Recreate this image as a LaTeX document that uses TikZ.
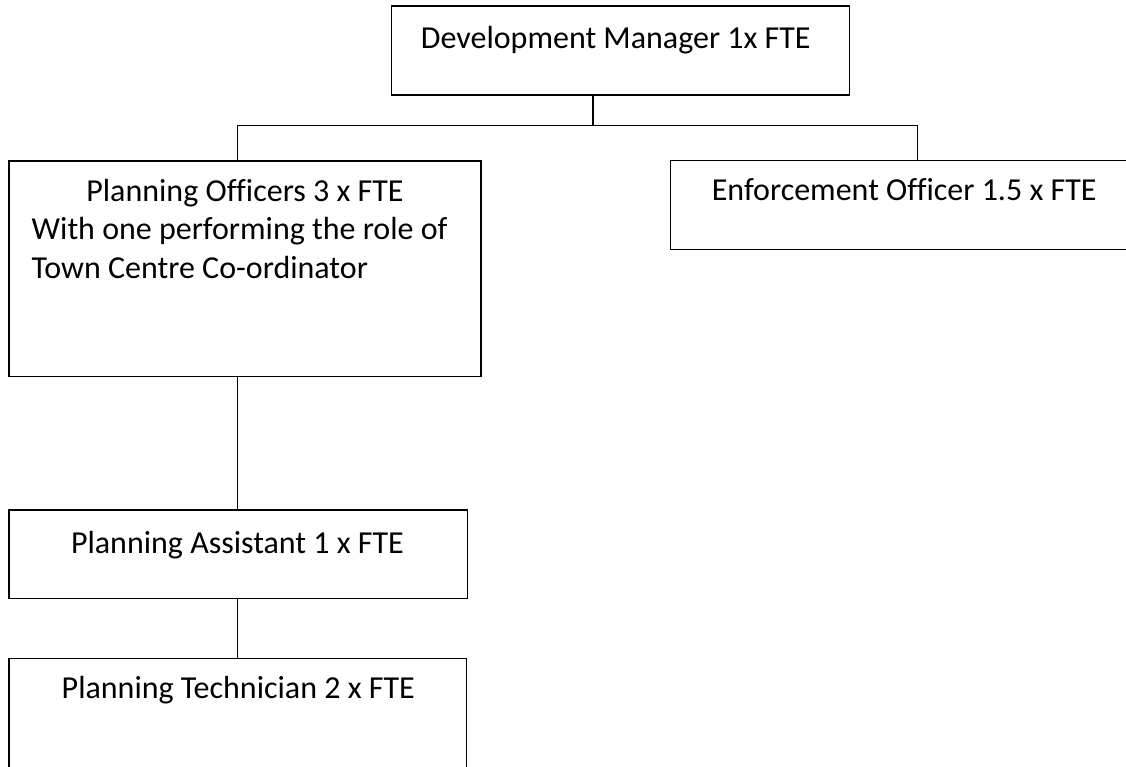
\documentclass[tikz,border=0pt]{standalone}
\usepackage{fontspec}
\setmainfont{Carlito}[Ligatures=NoCommon]
\begin{document}
\begin{tikzpicture}[x=1pt,y=-1pt,
  orgbox/.style={draw=black,line width=1.2pt,fill=none,inner sep=0pt,outer sep=0pt},
  lbl/.style={inner sep=0pt,outer sep=0pt,font=\fontsize{32}{38}\selectfont,anchor=base},
  lblw/.style={lbl,anchor=base west},
  conn/.style={draw=black,line width=1.2pt}]
\useasboundingbox (0,0) rectangle (1126,767);
\clip (0,0) rectangle (1126,767);
% boxes
\node[orgbox,minimum width=457.6pt,minimum height=89pt] (dm) at (620.5,50.5) {};
\node[orgbox,minimum width=472pt,minimum height=215.7pt] (po) at (245,268.85) {};
\node[orgbox,minimum width=480pt,minimum height=88.6pt] (eo) at (910.7,205) {};
\node[orgbox,minimum width=458.3pt,minimum height=88.3pt] (pa) at (238.15,554.15) {};
\node[orgbox,minimum width=457.7pt,minimum height=140pt] (pt) at (237.85,728.3) {};
% texts
\node[lbl] (dmt) at (615.8,48.3) {Development Manager 1x FTE};
\node[lbl] (pot1) at (245,201.7) {Planning Officers 3 x FTE};
\node[lblw] (pot2) at (31.7,240) {With one performing the role of};
\node[lblw] (pot3) at (31.7,278.3) {Town Centre Co-ordinator};
\node[lbl] (eot) at (904.2,201) {Enforcement Officer 1.5 x FTE};
\node[lbl] (pat) at (237.5,553.3) {Planning Assistant 1 x FTE};
\node[lbl] (ptt) at (238.3,698.3) {Planning Technician 2 x FTE};
% connectors
\coordinate (j) at (593,125.5);
\coordinate (jpo) at (237.3,125.5);
\coordinate (jeo) at (917.3,125.5);
\draw[conn] (j |- dm.south) -- (j);
\draw[conn] (jpo |- po.north) -- (jpo) -- (jeo) -- (jeo |- eo.north);
\draw[conn] (jpo |- po.south) -- (jpo |- pa.north);
\draw[conn] (jpo |- pa.south) -- (jpo |- pt.north);
\end{tikzpicture}
\end{document}
